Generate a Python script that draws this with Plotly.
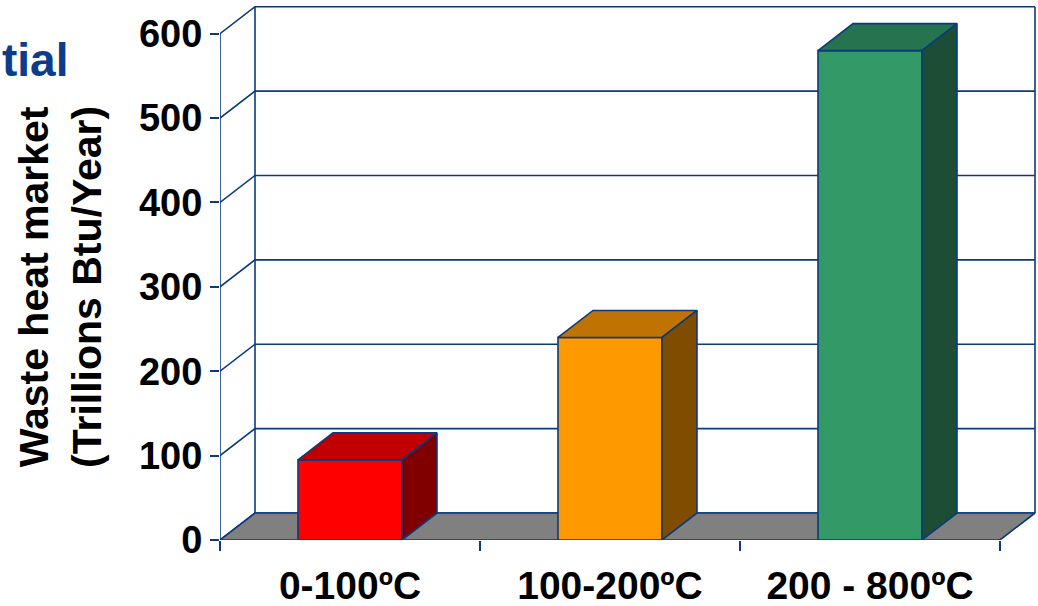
import plotly.graph_objects as go

# ---- data ----
categories = ["0-100ºC", "100-200ºC", "200 - 800ºC"]
values = [95, 240, 580]
front_colors = ["#FF0000", "#FF9900", "#339966"]
top_colors = ["#C00000", "#C07300", "#267350"]
side_colors = ["#800000", "#804D00", "#1D4D35"]
y_ticks = [0, 100, 200, 300, 400, 500, 600]
y_title = "Waste heat market<br>(Trillions Btu/Year)"
corner_text = "tial"

# ---- style ----
LINE = "#0B3A7E"
LW = 1.6
DX = 0.1346   # depth offset (category units)
DY = 32       # depth offset (value units)
BW = 0.4      # bar width (category units)
FONT = "Liberation Sans, Arial, sans-serif"
NCAT = len(categories)

fig = go.Figure()


def add_poly(xs, ys, fill=None):
    xs = list(xs) + [xs[0]]
    ys = list(ys) + [ys[0]]
    fig.add_trace(go.Scatter(
        x=xs, y=ys, mode="lines",
        fill="toself" if fill else None,
        fillcolor=fill,
        line=dict(color=LINE, width=LW),
        hoverinfo="skip", showlegend=False, cliponaxis=False))


def add_line(xs, ys):
    fig.add_trace(go.Scatter(
        x=xs, y=ys, mode="lines",
        line=dict(color=LINE, width=LW),
        hoverinfo="skip", showlegend=False, cliponaxis=False))


# back wall gridlines + side wall diagonals
for v in y_ticks:
    add_line([0, DX, NCAT + DX], [v, v + DY, v + DY])
# back wall vertical edges
add_line([DX, DX], [DY, y_ticks[-1] + DY])
add_line([NCAT + DX, NCAT + DX], [DY, y_ticks[-1] + DY])
# front value axis
add_line([0, 0], [0, y_ticks[-1]])

# floor
add_poly([0, NCAT, NCAT + DX, DX], [0, 0, DY, DY], fill="#808080")

# 3D bars
for i, v in enumerate(values):
    c = i + 0.5
    x0, x1 = c - BW / 2, c + BW / 2
    add_poly([x0, x1, x1, x0], [0, 0, v, v], fill=front_colors[i])
    add_poly([x0, x1, x1 + DX, x0 + DX], [v, v, v + DY, v + DY], fill=top_colors[i])
    add_poly([x1, x1 + DX, x1 + DX, x1], [0, DY, v + DY, v], fill=side_colors[i])

W, H = 1038, 606
PLOT_L, PLOT_R, PLOT_T, PLOT_B = 220, 1036, 6, 540
ML, MR, MT, MB = PLOT_L, W - PLOT_R, PLOT_T, H - PLOT_B
px_per_cat = 260.0
px_per_val = 0.8438
pw = PLOT_R - PLOT_L
ph = PLOT_B - PLOT_T
x_max = pw / px_per_cat
y_max = ph / px_per_val

fig.update_layout(
    width=W, height=H,
    margin=dict(l=ML, r=MR, t=MT, b=MB, pad=0, autoexpand=False),
    paper_bgcolor="white", plot_bgcolor="white",
    font=dict(family=FONT, color="black"),
    xaxis=dict(
        range=[0, x_max], showgrid=False, zeroline=False, showline=False,
        automargin=False,
        tickmode="array", tickvals=[i + 0.5 for i in range(NCAT)], ticktext=categories,
        ticks="", ticklabelstandoff=19,
        tickfont=dict(family=FONT, size=39, color="black", weight="bold"),
        minor=dict(tickmode="array", tickvals=list(range(NCAT + 1)), ticks="outside",
                   ticklen=10, tickwidth=LW, tickcolor=LINE, showgrid=False),
        fixedrange=True,
    ),
    yaxis=dict(
        range=[0, y_max], showgrid=False, zeroline=False, showline=False,
        automargin=False,
        tickmode="array", tickvals=y_ticks,
        ticks="outside", ticklen=9, tickwidth=LW, tickcolor=LINE,
        tickfont=dict(family=FONT, size=38, color="black", weight="bold"),
        fixedrange=True,
    ),
    annotations=[
        dict(text=y_title, xref="paper", yref="paper",
             x=(60 - PLOT_L) / pw, y=(PLOT_B - 287) / ph,
             xanchor="center", yanchor="middle", textangle=-90, showarrow=False,
             font=dict(family=FONT, size=41, color="black", weight="bold")),
        dict(text=corner_text, xref="paper", yref="paper",
             x=(70 - PLOT_L) / pw, y=(PLOT_B - 60) / ph,
             xanchor="right", yanchor="middle", showarrow=False,
             font=dict(family=FONT, size=46, color="#0B3D8C", weight="bold")),
    ],
)

fig.write_html(
    "out.html",
    config={"displayModeBar": False},
    post_script="document.body.style.margin='0';document.body.style.overflow='hidden';",
)
